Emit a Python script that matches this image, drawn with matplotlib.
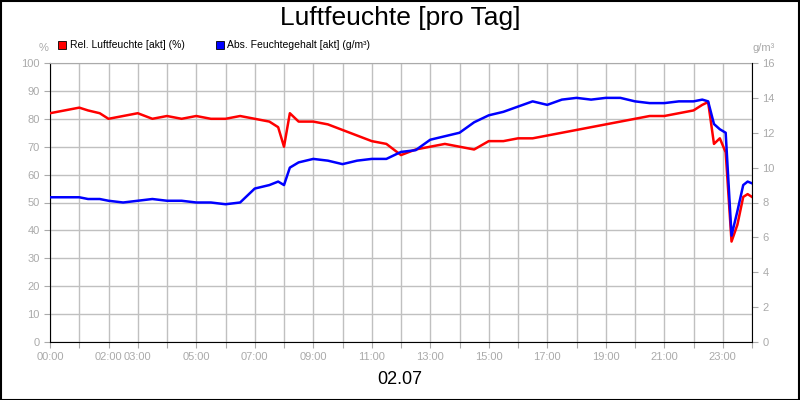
import numpy as np
import matplotlib.pyplot as plt

plt.rcParams['font.family'] = ['Liberation Sans', 'DejaVu Sans']

# hours of day
hrs = [0, 0.5, 1, 1.3, 1.7, 2, 2.5, 3, 3.5, 4, 4.5, 5, 5.5, 6, 6.5, 7, 7.5, 7.8, 8, 8.2,
       8.5, 9, 9.5, 10, 10.5, 11, 11.5, 12, 12.5, 13, 13.5, 14, 14.5, 15, 15.5, 16, 16.5,
       17, 17.5, 18, 18.5, 19, 19.5, 20, 20.5, 21, 21.5, 22, 22.3, 22.5, 22.7, 22.9, 23.1,
       23.3, 23.5, 23.7, 23.85, 24]
rel = [82, 83, 84, 83, 82, 80, 81, 82, 80, 81, 80, 81, 80, 80, 81, 80, 79, 77, 70, 82,
       79, 79, 78, 76, 74, 72, 71, 67, 69, 70, 71, 70, 69, 72, 72, 73, 73, 74, 75, 76, 77,
       78, 79, 80, 81, 81, 82, 83, 85, 86, 71, 73, 68, 36, 42, 52, 53, 52]
abs_ = [8.3, 8.3, 8.3, 8.2, 8.2, 8.1, 8.0, 8.1, 8.2, 8.1, 8.1, 8.0, 8.0, 7.9, 8.0, 8.8,
        9.0, 9.2, 9.0, 10.0, 10.3, 10.5, 10.4, 10.2, 10.4, 10.5, 10.5, 10.9, 11.0, 11.6,
        11.8, 12.0, 12.6, 13.0, 13.2, 13.5, 13.8, 13.6, 13.9, 14.0, 13.9, 14.0, 14.0, 13.8,
        13.7, 13.7, 13.8, 13.8, 13.9, 13.8, 12.5, 12.2, 12.0, 6.1, 7.5, 9.0, 9.2, 9.1]

tick_labels = {0: '00:00', 2: '02:00', 3: '03:00', 5: '05:00', 7: '07:00', 9: '09:00',
               11: '11:00', 13: '13:00', 15: '15:00', 17: '17:00', 19: '19:00',
               21: '21:00', 23: '23:00'}

grey = '#aaaaaa'
fig = plt.figure(figsize=(8, 4), dpi=100)
fig.patches.append(plt.Rectangle((0.001, 0.001), 0.998, 0.997, transform=fig.transFigure,
                                 fill=False, edgecolor='black', lw=1.5))
ax = fig.add_axes([0.0625, 0.145, 0.8775, 0.6975])
ax2 = ax.twinx()

ax.plot(hrs, rel, color='#ff0000', lw=1.8, zorder=3)
ax2.plot(hrs, abs_, color='#0000ff', lw=1.8, zorder=2)

ax.set_xlim(0, 24)
ax.set_ylim(0, 100)
ax2.set_ylim(0, 16)
ax.set_xticks(range(25))
ax.set_xticklabels([tick_labels.get(h, '') for h in range(25)])
ax.set_yticks(range(0, 101, 10))
ax2.set_yticks(range(0, 17, 2))
ax.grid(True, color='#c0c0c0', lw=1)
for a in (ax, ax2):
    a.tick_params(colors=grey, labelsize=8, length=4)
    for s in a.spines.values():
        s.set_visible(False)
ax.spines['left'].set_visible(True)
ax.spines['bottom'].set_visible(True)
ax2.spines['right'].set_visible(True)
ax.spines['top'].set_visible(True)
ax.spines['top'].set_color(grey)
ax.spines['top'].set_linewidth(0.8)

fig.text(0.5, 0.955, 'Luftfeuchte [pro Tag]', ha='center', va='center', fontsize=19)
fig.text(0.5, 0.05, '02.07', ha='center', va='center', fontsize=13)
fig.text(0.054, 0.88, '%', ha='center', va='center', fontsize=8, color=grey)
fig.text(0.955, 0.88, 'g/m³', ha='center', va='center', fontsize=8, color=grey)

fig.patches.append(plt.Rectangle((0.073, 0.878), 0.01, 0.02, transform=fig.transFigure,
                                 facecolor='#ff0000', edgecolor='black', lw=0.6))
fig.text(0.087, 0.888, 'Rel. Luftfeuchte [akt] (%)', va='center', fontsize=7.5)
fig.patches.append(plt.Rectangle((0.27, 0.878), 0.01, 0.02, transform=fig.transFigure,
                                 facecolor='#0000ff', edgecolor='black', lw=0.6))
fig.text(0.284, 0.888, 'Abs. Feuchtegehalt [akt] (g/m³)', va='center', fontsize=7.5)

fig.savefig('out.png')
